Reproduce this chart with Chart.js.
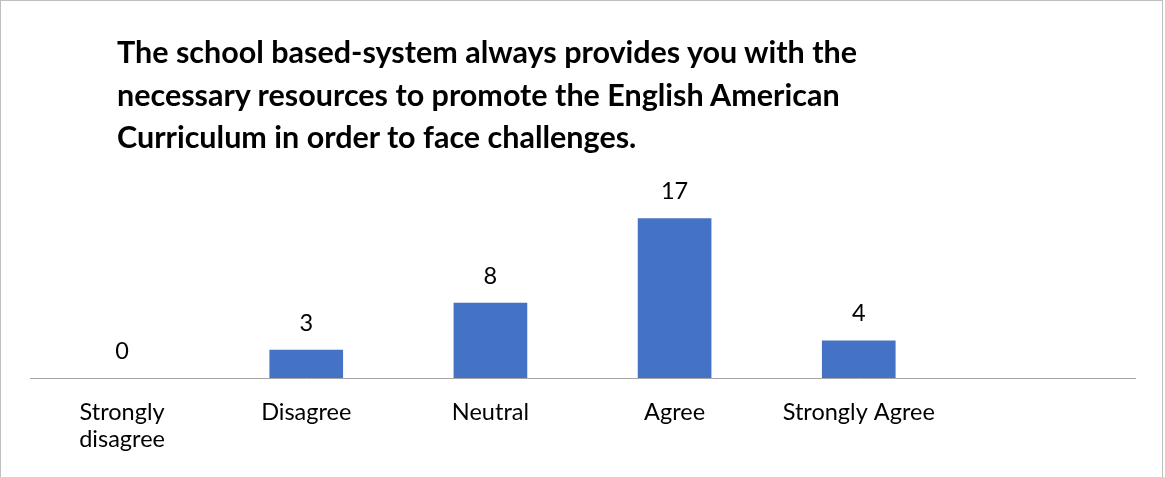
<!DOCTYPE html>
<html>
<head>
<meta charset="utf-8">
<script src="https://cdn.jsdelivr.net/npm/chart.js@4.4.0/dist/chart.umd.min.js"></script>
<style>
  html, body { margin: 0; padding: 0; background: #fff; overflow: hidden; }
  #frame { position: absolute; left: 0; top: 0; width: 1163px; height: 490px; border: 1px solid #bfbfbf; border-bottom: none; box-sizing: border-box; }
  #title { position: absolute; left: 117px; top: 30px; font-family: Lato, "Open Sans", sans-serif; font-weight: bold; font-size: 30.5px; line-height: 42.5px; color: #000; white-space: nowrap; }
  #wrap { position: absolute; left: 0; top: 0; width: 1165px; height: 477px; }
</style>
</head>
<body>
<div id="frame"></div>
<div id="wrap"><canvas id="c" width="1165" height="477"></canvas></div>
<div id="title">The school based-system always provides you with the<br>necessary resources to promote the English American<br>Curriculum in order to face challenges.</div>
<script>
const categories = [["Strongly", "disagree"], "Disagree", "Neutral", "Agree", "Strongly Agree", ""];
const values = [0, 3, 8, 17, 4, null];
const seriesName = "Responses";

const valueLabels = {
  id: 'valueLabels',
  afterDatasetsDraw(chart) {
    const ctx = chart.ctx;
    const meta = chart.getDatasetMeta(0);
    ctx.save();
    ctx.font = '23.5px Lato, "Open Sans", sans-serif';
    ctx.fillStyle = '#000';
    ctx.textAlign = 'center';
    ctx.textBaseline = 'alphabetic';
    meta.data.forEach((bar, i) => {
      const v = values[i];
      if (v === null || v === undefined) return;
      ctx.fillText(String(v), bar.x, bar.y - 19);
    });
    ctx.restore();
  }
};

new Chart(document.getElementById('c'), {
  type: 'bar',
  data: {
    labels: categories,
    datasets: [{
      label: seriesName,
      data: values,
      backgroundColor: '#4472C4',
      borderWidth: 0,
      categoryPercentage: 1.0,
      barPercentage: 0.4
    }]
  },
  options: {
    responsive: false,
    animation: false,
    layout: { padding: { left: 30, right: 30, top: 190, bottom: 0 } },
    plugins: { legend: { display: false }, title: { display: false }, tooltip: { enabled: false } },
    scales: {
      y: { display: false, min: 0, max: 20 },
      x: {
        offset: true,
        grid: { display: false, drawTicks: false },
        border: { display: true, color: '#a6a6a6', width: 1 },
        ticks: {
          color: '#000',
          font: { family: 'Lato, "Open Sans", sans-serif', size: 23.5, lineHeight: 1.15 },
          padding: 21,
          maxRotation: 0,
          autoSkip: false
        },
        afterFit(scale) { scale.height = 99; }
      }
    }
  },
  plugins: [valueLabels]
});
</script>
</body>
</html>
